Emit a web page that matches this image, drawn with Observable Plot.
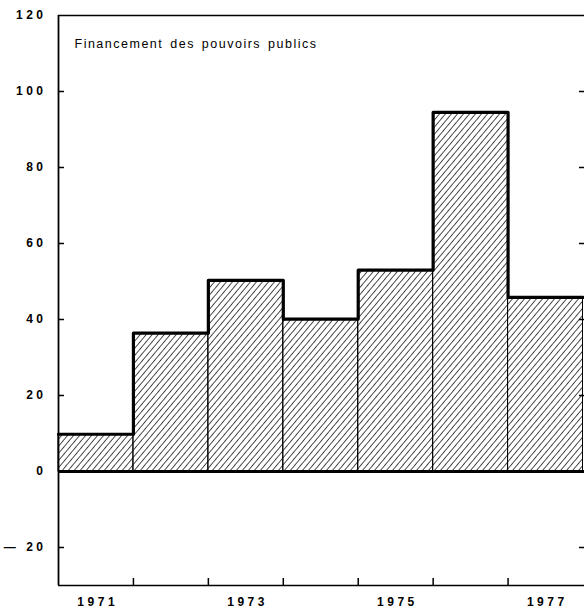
<!DOCTYPE html>
<html>
<head>
<meta charset="utf-8">
<script src="https://cdn.jsdelivr.net/npm/d3@7"></script>
<script src="https://cdn.jsdelivr.net/npm/@observablehq/plot@0.6"></script>
<style>
  html, body { margin: 0; padding: 0; background: #fff; }
  svg { display: block; }
</style>
</head>
<body>
<div id="chart"></div>
<script>
const years = [1971, 1972, 1973, 1974, 1975, 1976, 1977];
const values = [9.8, 36.4, 50.3, 40.1, 53, 94.5, 45.8];
const yTicks = [-20, 0, 20, 40, 60, 80, 100, 120];
const xLabelYears = [1971, 1973, 1975, 1977];
const title = "Financement des pouvoirs publics";

const bars = years.map((y, i) => ({year: y, value: values[i]}));
const stepPts = bars.map(d => ({x: d.year - 0.5, y: d.value}));
stepPts.push({x: years[years.length - 1] + 0.5, y: values[values.length - 1]});
const boundaries = years.slice(1).map(y => y - 0.5);

const font = "'Liberation Sans', Arial, sans-serif";

const chart = Plot.plot({
  width: 584,
  height: 608,
  marginLeft: 58,
  marginRight: 0,
  marginTop: 15,
  marginBottom: 23,
  style: {fontFamily: font, fontSize: "11px", color: "black", background: "white"},
  x: {domain: [1970.5, 1977.52], axis: null},
  y: {domain: [-30, 120], axis: null},
  marks: [
    Plot.rect(bars, {x1: d => d.year - 0.5, x2: d => d.year + 0.5, y1: 0, y2: "value",
      fill: "url(#hatch)", stroke: "black", strokeWidth: 1}),
    Plot.line(stepPts, {x: "x", y: "y", curve: "step-after", stroke: "black", strokeWidth: 3.2}),
    Plot.ruleY([0], {stroke: "black", strokeWidth: 3}),
    Plot.ruleY([120], {stroke: "black", strokeWidth: 1.5}),
    Plot.ruleY([-30], {stroke: "black", strokeWidth: 1.5}),
    Plot.ruleX([1970.5], {stroke: "black", strokeWidth: 1.8}),
    Plot.axisY({ticks: yTicks.filter(t => t !== 120 && t !== 0), anchor: "left", tickSize: -6, text: null, label: null, strokeWidth: 1.5}),
    Plot.axisY({ticks: yTicks.filter(t => t !== 120 && t !== 0), anchor: "right", tickSize: -6, text: null, label: null, strokeWidth: 1.5}),
    Plot.axisY({ticks: yTicks, anchor: "left", tickSize: 0, tickPadding: 12, label: null,
      tickFormat: d => d < 0 ? "\u2014 " + Math.abs(d) : String(d),
      fontWeight: "bold", fontSize: 12}),
    Plot.axisX({ticks: boundaries, anchor: "bottom", tickSize: -7, text: null, label: null, strokeWidth: 1.5}),
    Plot.axisX({ticks: xLabelYears, anchor: "bottom", tickSize: 0, tickPadding: 12, label: null, dx: 1.75,
      tickFormat: d => String(d), fontWeight: "bold", fontSize: 12}),
    Plot.text([title], {frameAnchor: "top-left", dx: 16, dy: 28, lineAnchor: "middle", textAnchor: "start",
      fontSize: 12.5, fill: "black"})
  ]
});

const ns = "http://www.w3.org/2000/svg";
const defs = document.createElementNS(ns, "defs");
defs.innerHTML = '<pattern id="hatch" patternUnits="userSpaceOnUse" width="4.6" height="4.6" patternTransform="rotate(40)">' +
  '<line x1="0" y1="0" x2="0" y2="4.6" stroke="black" stroke-width="1.4"/></pattern>';
chart.insertBefore(defs, chart.firstChild);
chart.querySelectorAll("text").forEach(t => {
  const s = t.textContent;
  if (/^(\u2014 )?\d+$/.test(s)) t.setAttribute("letter-spacing", "3.5");
  else if (s === title) { t.setAttribute("letter-spacing", "1.5"); t.setAttribute("word-spacing", "2"); }
});
document.getElementById("chart").appendChild(chart);
</script>
</body>
</html>
